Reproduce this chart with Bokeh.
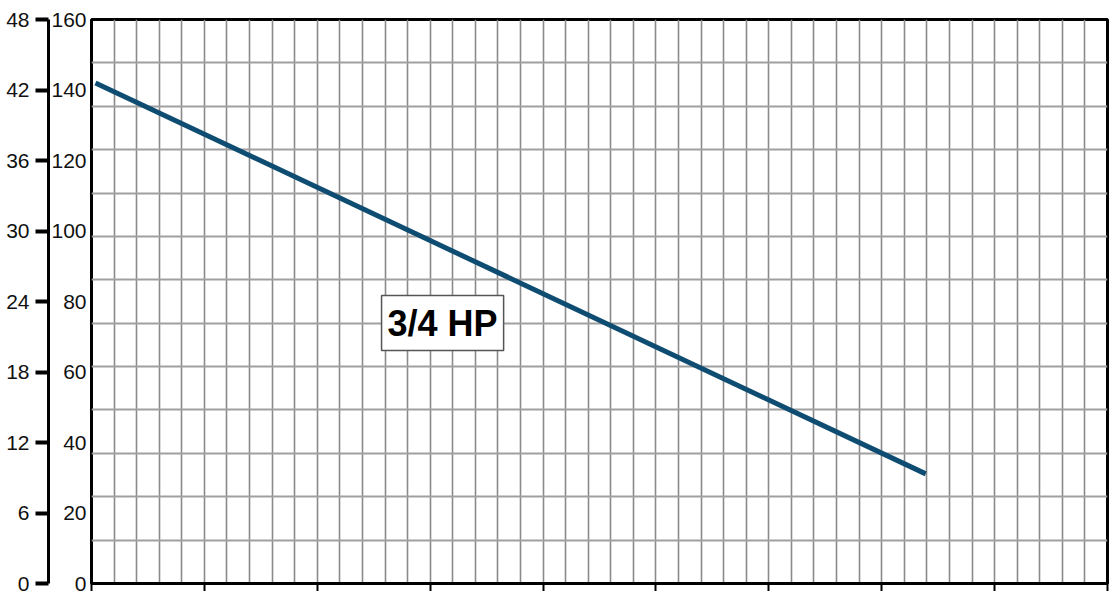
from bokeh.plotting import figure
from bokeh.models import (Range1d, LinearAxis, SingleIntervalTicker, FixedTicker,
                          Label, CustomLabelingPolicy)
from bokeh.embed import file_html
from bokeh.resources import INLINE

# ---- data ----
flow_gpm = [0.35, 73.9]          # x (grid: 45 columns of 2, majors every 10)
head_ft = [142.0, 31.1]          # head in feet (0-160 scale)
ft_ticks = [0, 20, 40, 60, 80, 100, 120, 140, 160]
m_ticks = [0, 6, 12, 18, 24, 30, 36, 42, 48]
grid_rows = list(range(14))      # 13 horizontal rows of the printed grid
curve_label = "3/4 HP"
label_pos = (31.1, 73.9)

FONT = "Liberation Sans"

p = figure(width=1114, height=591,
           x_range=Range1d(0, 90), y_range=Range1d(0, 160),
           output_backend="svg", toolbar_location=None,
           min_border_left=91, min_border_right=7,
           min_border_top=19, min_border_bottom=8,
           background_fill_color="white", border_fill_color="white")
p.extra_y_ranges = {"m": Range1d(0, 48), "rows": Range1d(0, 13)}

# grid
p.xgrid.ticker = SingleIntervalTicker(interval=2)
p.xgrid.grid_line_color = "#8a8a8a"
p.xgrid.grid_line_width = 1.6
p.ygrid.y_range_name = "rows"
p.ygrid.ticker = FixedTicker(ticks=grid_rows)
p.ygrid.grid_line_color = "#a0a0a0"
p.ygrid.grid_line_width = 1.8

# frame
p.outline_line_color = "black"
p.outline_line_width = 3
p.outline_line_alpha = 1.0

# inner (feet) axis: labels only
ya = p.yaxis[0]
ya.ticker = FixedTicker(ticks=ft_ticks)
ya.axis_line_color = None
ya.major_tick_out = 0
ya.major_tick_in = 0
ya.minor_tick_out = 0
ya.minor_tick_in = 0
ya.major_label_standoff = 5
ya.major_label_text_font = FONT
ya.major_label_text_font_size = "21px"
ya.major_label_text_color = "#111111"

# outer (metres) axis
ma = LinearAxis(y_range_name="m", ticker=FixedTicker(ticks=m_ticks))
ma.axis_line_color = "black"
ma.axis_line_width = 3
ma.major_tick_out = 13
ma.major_tick_in = 0
ma.major_tick_line_width = 4
ma.major_tick_line_color = "black"
ma.minor_tick_out = 0
ma.minor_tick_in = 0
ma.major_label_standoff = 6
ma.major_label_text_font = FONT
ma.major_label_text_font_size = "21px"
ma.major_label_text_color = "#111111"
p.add_layout(ma, "left")

# bottom axis: ticks only (labels lie outside the reference crop)
xa = p.xaxis[0]
xa.ticker = SingleIntervalTicker(interval=10)
xa.axis_line_color = "black"
xa.axis_line_width = 3
xa.major_tick_out = 8
xa.major_tick_in = 0
xa.major_tick_line_width = 2
xa.major_tick_line_color = "black"
xa.minor_tick_out = 0
xa.minor_tick_in = 0
xa.major_label_standoff = 0
xa.major_label_text_font_size = "0px"
xa.major_label_policy = CustomLabelingPolicy(code="""
try { for (const i of Array.from(indices)) indices.unset(i) } catch (e) {}
return indices
""")

# pump curve
p.line(flow_gpm, head_ft, line_color="#0f4c72", line_width=5)

lab = Label(x=label_pos[0], y=label_pos[1], text=curve_label,
            text_align="center", text_baseline="middle",
            text_font=FONT, text_font_size="36px", text_font_style="bold",
            text_color="black",
            background_fill_color="white", background_fill_alpha=1.0,
            border_line_color="#555555", border_line_width=1.5,
            padding=dict(left=6, right=6, top=7, bottom=7))
p.add_layout(lab)

open("out.html", "w").write(file_html(p, INLINE))
